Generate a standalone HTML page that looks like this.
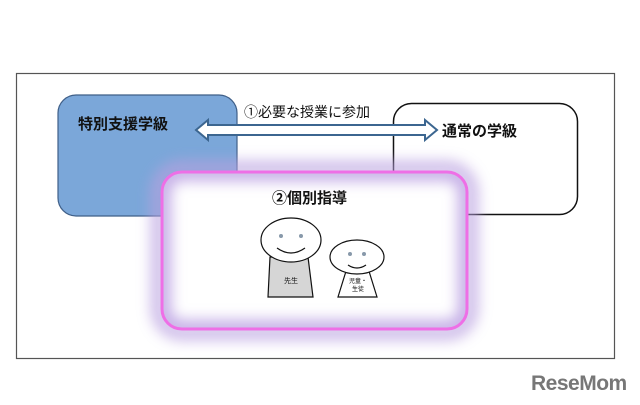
<!DOCTYPE html>
<html><head><meta charset="utf-8"><style>
body{margin:0;width:640px;height:400px;background:#fff;overflow:hidden}
text{font-family:"Liberation Sans","Noto Sans CJK JP",sans-serif}
</style></head><body>
<svg width="640" height="400" viewBox="0 0 640 400" xmlns="http://www.w3.org/2000/svg">
<defs>
<filter id="g" x="-30%" y="-30%" width="160%" height="160%"><feGaussianBlur stdDeviation="7"/></filter>
<clipPath id="c"><rect x="162" y="172" width="305" height="157" rx="20"/></clipPath>
</defs>
<rect x="16.5" y="73.5" width="598" height="285" fill="#fff" stroke="#555" stroke-width="1.2"/>
<rect x="58" y="95" width="179" height="121" rx="18" fill="#7ba7d9" stroke="#3f5f88" stroke-width="1.2"/>
<rect x="393.5" y="103.5" width="184" height="111" rx="18" fill="none" stroke="#111" stroke-width="1.5"/>
<text x="78" y="129" font-size="15" font-weight="bold" fill="#111">特別支援学級</text>
<text x="442" y="136" font-size="15" font-weight="bold" fill="#111">通常の学級</text>
<text x="244" y="117" font-size="14" fill="#111">①必要な授業に参加</text>
<path d="M196,130 L208,120 L208,125 L425,125 L425,120 L437,130 L425,140 L425,135 L208,135 L208,140 Z" fill="#fff" stroke="#3c6690" stroke-width="2"/>
<rect x="158" y="168" width="313" height="165" rx="24" fill="none" stroke="#b9a0e0" stroke-width="14" opacity="0.75" filter="url(#g)"/>
<rect x="162" y="172" width="305" height="157" rx="20" fill="#fff"/>
<g clip-path="url(#c)"><rect x="162" y="172" width="305" height="157" rx="20" fill="none" stroke="#c4aee6" stroke-width="18" filter="url(#g)"/></g>
<rect x="162" y="172" width="305" height="157" rx="20" fill="none" stroke="#ee6fe6" stroke-width="3"/>
<text x="272" y="203" font-size="15" font-weight="bold" fill="#111">②個別指導</text>
<path d="M270,257 L308,257 L313,297 L268,297 Z" fill="#d6d6d6" stroke="#111" stroke-width="1.2"/>
<ellipse cx="291" cy="240" rx="30" ry="22" fill="#fff" stroke="#111" stroke-width="1.2"/>
<circle cx="281" cy="236" r="2" fill="#89a" /><circle cx="301" cy="236" r="2" fill="#89a"/>
<path d="M277,248 Q291,258 305,248" fill="none" stroke="#111" stroke-width="1.2"/>
<text x="291" y="283" font-size="7" text-anchor="middle" fill="#111">先生</text>
<path d="M347,268 L368,268 L377,297 L338,297 Z" fill="#fff" stroke="#111" stroke-width="1.2"/>
<ellipse cx="357" cy="257" rx="27" ry="17" fill="#fff" stroke="#111" stroke-width="1.2"/>
<circle cx="350" cy="254" r="2" fill="#89a"/><circle cx="364" cy="254" r="2" fill="#89a"/>
<path d="M348,265 Q357,271 366,265" fill="none" stroke="#111" stroke-width="1.2"/>
<text x="358" y="283" font-size="6" text-anchor="middle" fill="#111">児童・</text>
<text x="358" y="291" font-size="6" text-anchor="middle" fill="#111">生徒</text>
<text x="531" y="390" font-size="21" font-weight="bold" fill="#777" letter-spacing="-0.5">ReseMom</text>
</svg>
</body></html>
